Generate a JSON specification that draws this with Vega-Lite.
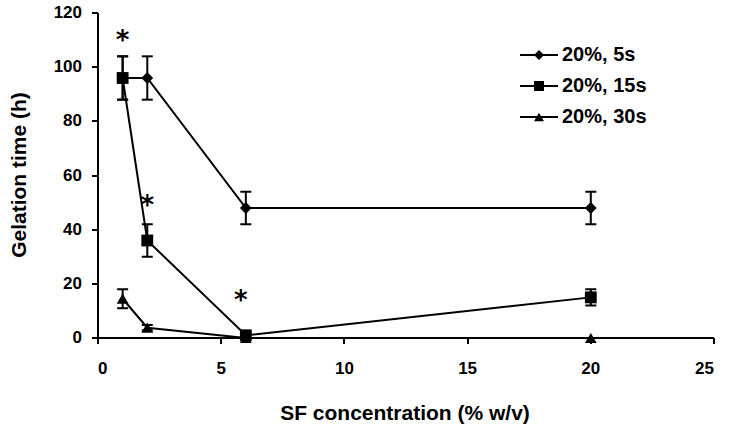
{
  "$schema": "https://vega.github.io/schema/vega-lite/v6.json",
  "width": 616,
  "height": 325,
  "autosize": {"type": "none"},
  "padding": {"left": 98, "top": 13, "right": 15, "bottom": 93},
  "background": "white",
  "config": {
    "view": {"stroke": null},
    "font": "Liberation Sans",
    "axis": {
      "grid": false,
      "translate": 0,
      "domainColor": "black",
      "domainWidth": 2,
      "tickColor": "black",
      "tickWidth": 2,
      "tickSize": 6,
      "labelColor": "black",
      "labelFont": "Liberation Sans",
      "labelFontWeight": "bold",
      "labelFontSize": 17,
      "titleColor": "black",
      "titleFont": "Liberation Sans",
      "titleFontWeight": "bold",
      "titleFontSize": 21
    },
    "legend": {
      "title": null,
      "orient": "none",
      "padding": 0,
      "symbolSize": 100,
      "labelFont": "Liberation Sans",
      "labelFontWeight": "bold",
      "labelFontSize": 20,
      "labelColor": "black",
      "labelOffset": 13,
      "rowPadding": 11
    }
  },
  "datasets": {
    "points": [
      {"series": "20%, 5s", "sf": 1, "time": 96, "lo": 88, "hi": 104},
      {"series": "20%, 5s", "sf": 2, "time": 96, "lo": 88, "hi": 104},
      {"series": "20%, 5s", "sf": 6, "time": 48, "lo": 42, "hi": 54},
      {"series": "20%, 5s", "sf": 20, "time": 48, "lo": 42, "hi": 54},
      {"series": "20%, 15s", "sf": 1, "time": 96, "lo": 88, "hi": 104},
      {"series": "20%, 15s", "sf": 2, "time": 36, "lo": 30, "hi": 42},
      {"series": "20%, 15s", "sf": 6, "time": 1, "lo": null, "hi": null},
      {"series": "20%, 15s", "sf": 20, "time": 15, "lo": 12, "hi": 18},
      {"series": "20%, 30s", "sf": 1, "time": 14.5, "lo": 11, "hi": 18},
      {"series": "20%, 30s", "sf": 2, "time": 3.8, "lo": 2.8, "hi": 4.8},
      {"series": "20%, 30s", "sf": 6, "time": 0, "lo": null, "hi": null},
      {"series": "20%, 30s", "sf": 20, "time": 0, "lo": null, "hi": null}
    ],
    "stars": [
      {"sf": 1, "time": 112, "mark": "*"},
      {"sf": 2, "time": 51, "mark": "*"},
      {"sf": 5.8, "time": 16, "mark": "*"}
    ]
  },
  "layer": [
    {
      "data": {"name": "points"},
      "transform": [{"filter": "datum.lo != null"}],
      "mark": {"type": "rule", "color": "black", "strokeWidth": 2},
      "encoding": {
        "x": {"field": "sf", "type": "quantitative", "title": "SF concentration (% w/v)"},
        "y": {"field": "lo", "type": "quantitative", "title": "Gelation time (h)"},
        "y2": {"field": "hi"}
      }
    },
    {
      "data": {"name": "points"},
      "transform": [{"filter": "datum.lo != null"}],
      "mark": {"type": "tick", "orient": "horizontal", "color": "black", "size": 11, "thickness": 2, "opacity": 1},
      "encoding": {
        "x": {"field": "sf", "type": "quantitative", "title": "SF concentration (% w/v)"},
        "y": {"field": "lo", "type": "quantitative", "title": "Gelation time (h)"}
      }
    },
    {
      "data": {"name": "points"},
      "transform": [{"filter": "datum.lo != null"}],
      "mark": {"type": "tick", "orient": "horizontal", "color": "black", "size": 11, "thickness": 2, "opacity": 1},
      "encoding": {
        "x": {"field": "sf", "type": "quantitative", "title": "SF concentration (% w/v)"},
        "y": {"field": "hi", "type": "quantitative", "title": "Gelation time (h)"}
      }
    },
    {
      "data": {"name": "points"},
      "mark": {"type": "line", "strokeWidth": 2},
      "encoding": {
        "x": {"field": "sf", "type": "quantitative", "title": "SF concentration (% w/v)"},
        "y": {"field": "time", "type": "quantitative", "title": "Gelation time (h)"},
        "color": {
          "field": "series", "type": "nominal",
          "scale": {"range": ["black", "black", "black"]},
          "legend": {
            "legendX": 431,
            "legendY": 32,
            "symbolType": "M-3.8,0L3.8,0",
            "symbolSize": 100,
            "symbolStrokeWidth": 2,
            "symbolStrokeColor": "black",
            "symbolOpacity": 1,
            "labelOpacity": 0
          }
        }
      }
    },
    {
      "data": {"name": "points"},
      "mark": {"type": "point", "filled": true, "color": "black", "opacity": 1, "size": 140},
      "encoding": {
        "x": {
          "field": "sf", "type": "quantitative",
          "scale": {"domain": [0, 25], "nice": false, "zero": true},
          "axis": {
            "values": [0, 5, 10, 15, 20, 25],
            "labelPadding": 17,
            "title": "SF concentration (% w/v)",
            "titleX": 307,
            "titleY": 82,
            "titleBaseline": "alphabetic",
            "titleAlign": "center"
          }
        },
        "y": {
          "field": "time", "type": "quantitative",
          "scale": {"domain": [0, 120], "nice": false},
          "axis": {
            "values": [0, 20, 40, 60, 80, 100, 120],
            "labelPadding": 10,
            "title": "Gelation time (h)",
            "titleAngle": -90,
            "titleX": -72,
            "titleY": 162,
            "titleBaseline": "alphabetic",
            "titleAlign": "center"
          }
        },
        "shape": {
          "field": "series", "type": "nominal",
          "scale": {"domain": ["20%, 5s", "20%, 15s", "20%, 30s"], "range": ["diamond", "square", "triangle-up"]},
          "legend": {
            "legendX": 431,
            "legendY": 32,
            "symbolSize": 100,
            "symbolFillColor": "black",
            "symbolOpacity": 1
          }
        }
      }
    },
    {
      "data": {"name": "stars"},
      "mark": {"type": "text", "font": "DejaVu Sans", "fontSize": 26, "fontWeight": "bold", "fill": "black", "color": "black", "baseline": "alphabetic", "align": "center", "dy": 14},
      "encoding": {
        "x": {"field": "sf", "type": "quantitative"},
        "y": {"field": "time", "type": "quantitative"},
        "text": {"field": "mark"}
      }
    }
  ]
}
